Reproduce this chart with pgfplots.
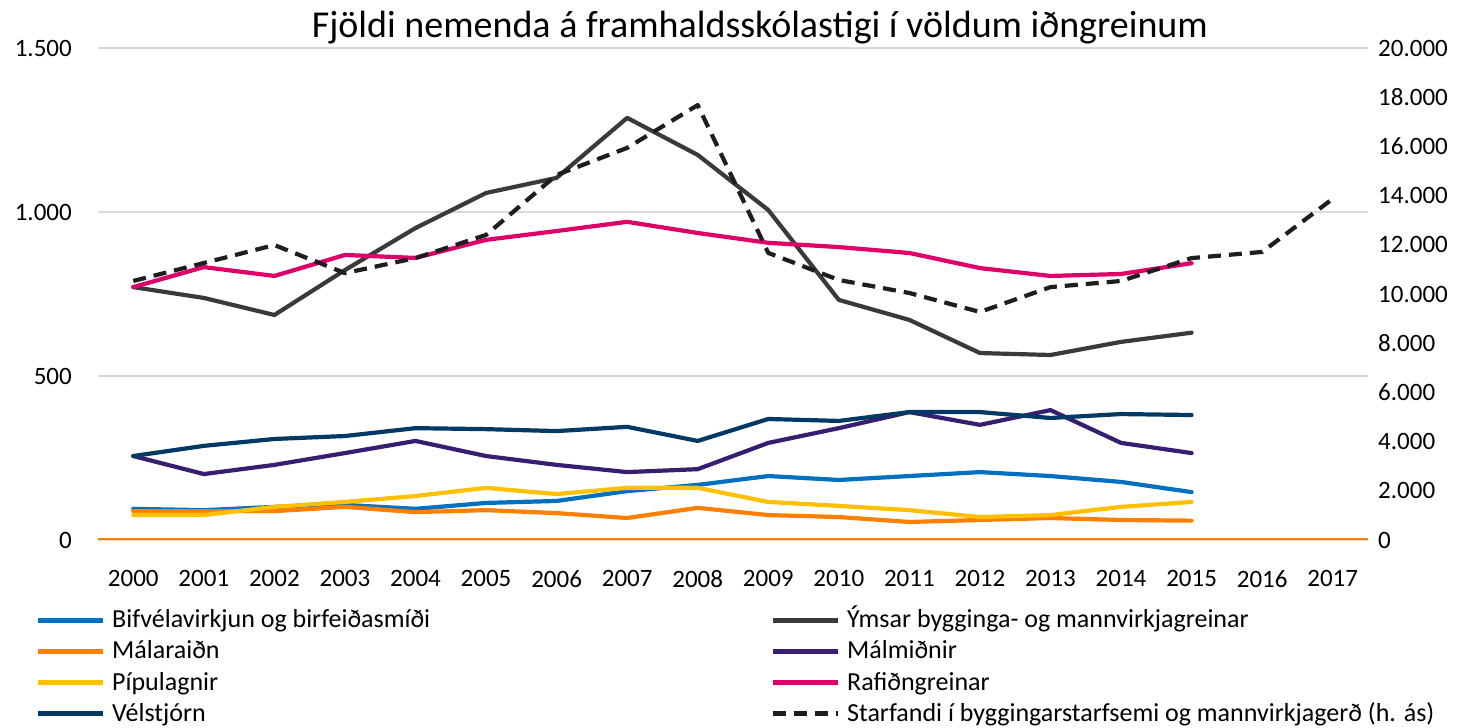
\documentclass[border=0pt]{standalone}
\usepackage{fontspec}
\setmainfont{Carlito}
\usepackage{pgfplots}
\pgfplotsset{compat=1.18}
\definecolor{cBif}{RGB}{0,112,192}
\definecolor{cMal}{RGB}{255,128,0}
\definecolor{cPip}{RGB}{255,192,0}
\definecolor{cVel}{RGB}{0,58,100}
\definecolor{cYms}{RGB}{58,58,58}
\definecolor{cMalm}{RGB}{56,30,112}
\definecolor{cRaf}{RGB}{222,0,104}
\definecolor{cSta}{RGB}{30,30,30}
\definecolor{cGrid}{RGB}{217,217,217}
\pgfplotsset{
  common/.style={
    scale only axis, width=1270pt, height=492pt,
    xmin=-0.5, xmax=17.5,
    major tick length=0pt,
    axis line style={draw=none},
    scaled y ticks=false,
    yticklabel style={font=\fontsize{25}{30}\selectfont, inner sep=0pt},
    /pgf/number format/.cd, 1000 sep={.}, assume math mode=true,
  },
  ser/.style={line width=4.2pt, line join=round, line cap=round},
}
\begin{document}
\begin{tikzpicture}
\begin{axis}[common,
  ymin=0, ymax=1500, ytick={0,500,1000,1500},
  ymajorgrids, grid style={cGrid, line width=2pt},
  xtick={0,...,17},
  xticklabels={2000,2001,2002,2003,2004,2005,2006,2007,2008,2009,2010,2011,2012,2013,2014,2015,2016,2017},
  xticklabel style={font=\fontsize{25}{30}\selectfont, inner sep=0pt, anchor=north, yshift=-30pt},
  yticklabel style={xshift=-26pt},
  ytick pos=left, xtick pos=bottom,
]
\draw[cMal, line width=3pt] (axis cs:-0.5,0) -- (axis cs:17.5,0);
\addplot[ser, cBif] coordinates {(0,95)(1,91)(2,101)(3,107)(4,95)(5,113)(6,119)(7,149)(8,168)(9,195)(10,183)(11,195)(12,207)(13,195)(14,177)(15,146)};
\addplot[ser, cYms] coordinates {(0,771)(1,738)(2,686)(3,823)(4,951)(5,1058)(6,1104)(7,1287)(8,1174)(9,1006)(10,732)(11,671)(12,570)(13,564)(14,604)(15,632)};
\addplot[ser, cMal] coordinates {(0,88)(1,88)(2,88)(3,101)(4,85)(5,91)(6,82)(7,67)(8,98)(9,76)(10,70)(11,55)(12,61)(13,67)(14,61)(15,59)};
\addplot[ser, cMalm] coordinates {(0,256)(1,201)(2,229)(3,265)(4,302)(5,256)(6,229)(7,207)(8,216)(9,296)(10,341)(11,390)(12,351)(13,396)(14,296)(15,265)};
\addplot[ser, cPip] coordinates {(0,76)(1,76)(2,101)(3,116)(4,134)(5,159)(6,140)(7,159)(8,159)(9,116)(10,104)(11,91)(12,70)(13,76)(14,101)(15,116)};
\addplot[ser, cRaf] coordinates {(0,771)(1,832)(2,805)(3,869)(4,860)(5,915)(6,942)(7,970)(8,936)(9,906)(10,893)(11,875)(12,829)(13,805)(14,811)(15,844)};
\addplot[ser, cVel] coordinates {(0,256)(1,287)(2,308)(3,317)(4,341)(5,338)(6,332)(7,345)(8,302)(9,369)(10,363)(11,390)(12,390)(13,372)(14,384)(15,381)};
\end{axis}
\begin{axis}[common,
  ymin=0, ymax=20000, ytick={0,2000,...,20000},
  axis y line*=right, axis x line=none,
  yticklabel style={anchor=west, xshift=10pt},
  legend columns=2,
  legend image code/.code={\draw[#1, line cap=butt, line width=5pt] (0pt,7.5pt) -- (65pt,7.5pt);},
  legend style={at={(axis description cs:-0.0496,-0.141)}, anchor=north west, draw=none, fill=none,
    inner sep=0pt, column sep=7pt, row sep=7.3pt,
    font=\fontsize{26}{30}\selectfont,
    nodes={inner sep=0pt, text height=18pt, text depth=6pt, anchor=base west}},
]
\addlegendimage{ser, cBif}
\addlegendentry{\makebox[651pt][l]{Bifvélavirkjun og birfeiðasmíði}}
\addlegendimage{ser, cYms}
\addlegendentry{Ýmsar bygginga- og mannvirkjagreinar}
\addlegendimage{ser, cMal}
\addlegendentry{\makebox[651pt][l]{Málaraiðn}}
\addlegendimage{ser, cMalm}
\addlegendentry{Málmiðnir}
\addlegendimage{ser, cPip}
\addlegendentry{\makebox[651pt][l]{Pípulagnir}}
\addlegendimage{ser, cRaf}
\addlegendentry{Rafiðngreinar}
\addlegendimage{ser, cVel}
\addlegendentry{\makebox[651pt][l]{Vélstjórn}}
\addplot[ser, cSta, line cap=butt, dash pattern=on 13pt off 8pt] coordinates {(0,10530)(1,11260)(2,11990)(3,10850)(4,11460)(5,12400)(6,14840)(7,15940)(8,17680)(9,11670)(10,10570)(11,10040)(12,9270)(13,10280)(14,10530)(15,11460)(16,11710)(17,13870)};
\addlegendentry{Starfandi í byggingarstarfsemi og mannvirkjagerð (h. ás)}
\end{axis}
\node[font=\fontsize{38}{44}\selectfont, inner sep=0pt] at (662pt,512pt) {Fjöldi nemenda á framhaldsskólastigi í völdum iðngreinum};
\pgfresetboundingbox
\path (-98pt,-188pt) rectangle (1380pt,540pt);
\end{tikzpicture}
\end{document}
